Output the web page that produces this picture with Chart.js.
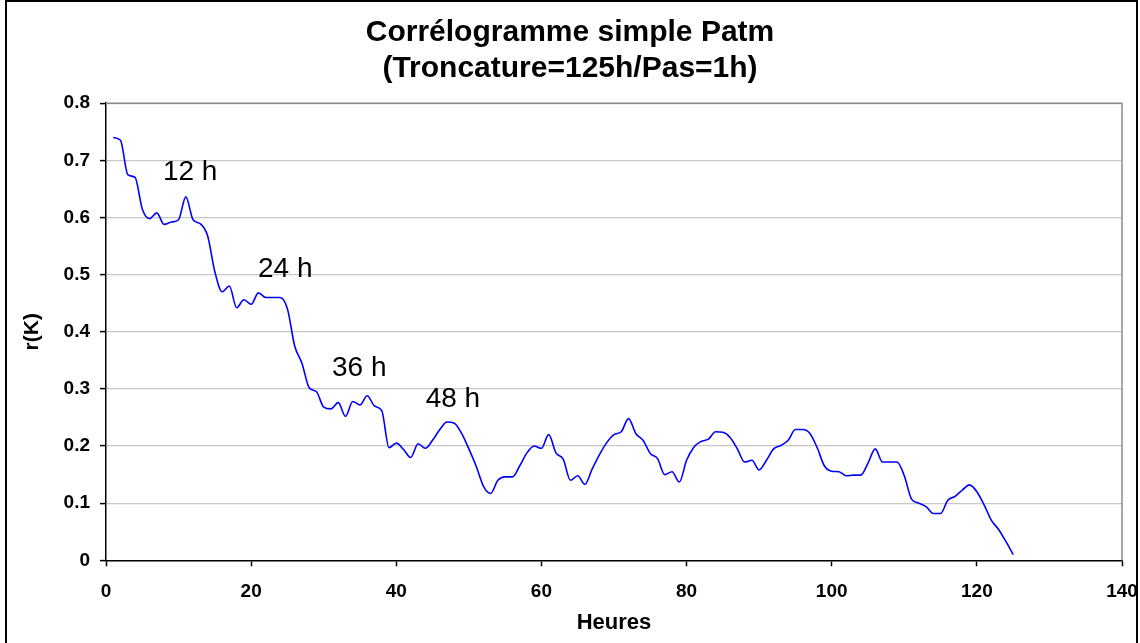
<!DOCTYPE html>
<html>
<head>
<meta charset="utf-8">
<script src="https://cdn.jsdelivr.net/npm/chart.js@4/dist/chart.umd.min.js"></script>
<style>
  html, body { margin: 0; padding: 0; background: #fff; }
  #wrap { width: 1140px; height: 643px; }
</style>
</head>
<body>
<div id="wrap"><canvas id="corr" width="1140" height="643"></canvas></div>
<script>
// autocorrelation r(K) of atmospheric pressure, lag K in hours (1..125, step 1 h)
const lags = Array.from({ length: 125 }, (_, i) => i + 1);
const rK = [
  0.740, 0.735, 0.675, 0.670, 0.615, 0.598, 0.608, 0.588, 0.592, 0.596,
  0.636, 0.596, 0.589, 0.568, 0.505, 0.470, 0.480, 0.442, 0.456, 0.448,
  0.468, 0.460, 0.460, 0.460, 0.440, 0.375, 0.345, 0.302, 0.295, 0.268,
  0.265, 0.276, 0.252, 0.278, 0.272, 0.288, 0.270, 0.262, 0.197, 0.205,
  0.194, 0.180, 0.204, 0.196, 0.210, 0.229, 0.242, 0.240, 0.222, 0.195,
  0.165, 0.130, 0.117, 0.140, 0.146, 0.146, 0.165, 0.188, 0.200, 0.196,
  0.220, 0.188, 0.177, 0.140, 0.148, 0.133, 0.160, 0.185, 0.206, 0.220,
  0.225, 0.248, 0.222, 0.210, 0.187, 0.178, 0.150, 0.155, 0.137, 0.175,
  0.198, 0.208, 0.212, 0.225, 0.224, 0.215, 0.195, 0.172, 0.175, 0.158,
  0.175, 0.195, 0.201, 0.210, 0.229, 0.229, 0.222, 0.197, 0.165, 0.156,
  0.155, 0.148, 0.149, 0.149, 0.170, 0.195, 0.172, 0.172, 0.172, 0.148,
  0.107, 0.100, 0.094, 0.082, 0.082, 0.105, 0.112, 0.123, 0.132, 0.120,
  0.097, 0.070, 0.054, 0.033, 0.010
];

// period markers written on the plot (x in hours, y in r units)
const markText = ["12 h", "24 h", "36 h", "48 h"];
const markX = [11.6, 24.7, 34.9, 47.8];
const markY = [0.679, 0.510, 0.336, 0.281];

const FONT = 'Arial, "Liberation Sans", sans-serif';

// outer frame + plot border (grey on top and right)
const framePlugin = {
  id: "frame",
  beforeDraw(chart) {
    const ctx = chart.ctx;
    ctx.save();
    ctx.fillStyle = "#fff";
    ctx.fillRect(0, 0, chart.width, chart.height);
    ctx.strokeStyle = "#000";
    ctx.lineWidth = 2;
    ctx.strokeRect(6, 1, 1131, 660);
    ctx.restore();
  },
  afterDatasetsDraw(chart) {
    const { ctx, chartArea: a } = chart;
    ctx.save();
    ctx.strokeStyle = "#8a8a8a";
    ctx.lineWidth = 1.5;
    ctx.beginPath();
    ctx.moveTo(a.left, a.top);
    ctx.lineTo(a.right, a.top);
    ctx.lineTo(a.right, a.bottom);
    ctx.stroke();

    // period labels
    const xs = chart.scales.x, ys = chart.scales.y;
    ctx.fillStyle = "#000";
    ctx.font = "28px " + FONT;
    ctx.textAlign = "center";
    ctx.textBaseline = "middle";
    markText.forEach((t, i) => {
      ctx.fillText(t, xs.getPixelForValue(markX[i]), ys.getPixelForValue(markY[i]));
    });
    ctx.restore();
  }
};

new Chart(document.getElementById("corr"), {
  type: "line",
  data: {
    datasets: [{
      data: lags.map((k, i) => ({ x: k, y: rK[i] })),
      borderColor: "#0000ff",
      borderWidth: 1.6,
      pointRadius: 0,
      tension: 0.25,
      cubicInterpolationMode: "monotone",
      fill: false
    }]
  },
  options: {
    responsive: false,
    animation: false,
    layout: { padding: { top: 0, right: 0, bottom: 0, left: 0 } },
    plugins: {
      legend: { display: false },
      tooltip: { enabled: false },
      title: {
        display: true,
        text: ["Corrélogramme simple Patm", "(Troncature=125h/Pas=1h)"],
        color: "#000",
        font: { family: FONT, size: 30, weight: "bold", lineHeight: 1.22 },
        padding: { top: 14, bottom: 16 }
      }
    },
    scales: {
      x: {
        type: "linear",
        min: 0,
        max: 140,
        afterFit(s) {
          s.height = 82.7;
          // keep the last label hanging just inside the frame
          s.paddingRight = 18;
        },
        ticks: {
          stepSize: 20,
          color: "#000",
          padding: 14,
          maxRotation: 0,
          font: { family: FONT, size: 19, weight: "bold" }
        },
        grid: { drawOnChartArea: false, tickLength: 6, tickColor: "#000", tickWidth: 1.5 },
        border: { color: "#000", width: 1.5 },
        title: {
          display: true,
          text: "Heures",
          color: "#000",
          font: { family: FONT, size: 22, weight: "bold", lineHeight: 1.2 },
          padding: { top: 0, bottom: 7 }
        }
      },
      y: {
        min: 0,
        max: 0.8,
        afterFit(s) { s.width = 106; },
        ticks: {
          stepSize: 0.1,
          color: "#000",
          padding: 10,
          font: { family: FONT, size: 19, weight: "bold" },
          callback: v => (v === 0 ? "0" : v.toFixed(1))
        },
        grid: { color: "#c8c8c8", lineWidth: 1.2, tickLength: 6, tickColor: "#000", tickWidth: 1.5 },
        border: { color: "#000", width: 1.5 },
        title: {
          display: true,
          text: "r(K)",
          color: "#000",
          font: { family: FONT, size: 21, weight: "bold", lineHeight: 1.2 },
          padding: { top: 20, bottom: 0 }
        }
      }
    }
  },
  plugins: [framePlugin]
});
</script>
</body>
</html>
